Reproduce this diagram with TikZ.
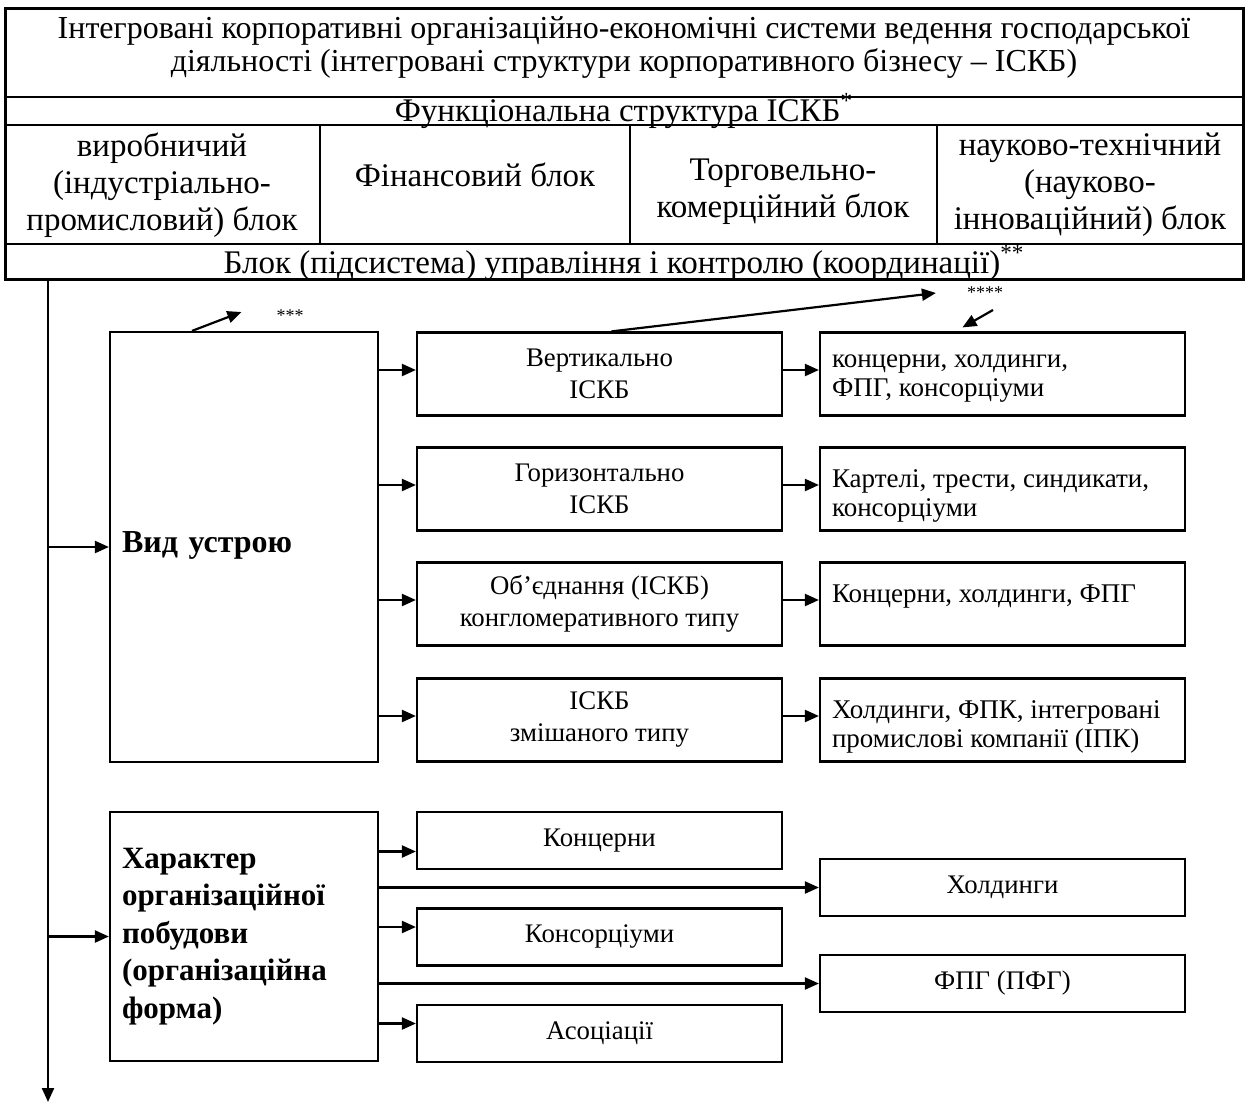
\documentclass[tikz,border=0pt]{standalone}
\usepackage{fontspec}
\setmainfont{Liberation Serif}
\usetikzlibrary{arrows.meta}

\begin{document}
\begin{tikzpicture}[x=0.5pt,y=-0.5pt,line width=1.1pt,
  every node/.style={inner sep=0pt},
  head/.style={align=center,font=\fontsize{16.5}{18.5}\selectfont},
  mid/.style={draw,minimum width=182.5pt,minimum height=41.5pt,align=center,
    font=\fontsize{13.4}{16}\selectfont},
  res/.style={draw,minimum width=182.5pt,minimum height=41.5pt},
  restext/.style={anchor=north west,align=left,inner xsep=6pt,inner ysep=11pt,
    font=\fontsize{13.5}{14.5}\selectfont},
  big/.style={draw,minimum width=134pt,text width=122pt,align=left,
    font=\fontsize{15.5}{18.75}\selectfont\bfseries},
  star/.style={font=\fontsize{9}{9}\selectfont},
  link/.style={-{Triangle[length=7pt,width=6pt]}}]
  \useasboundingbox (0,0) rectangle (1247,1103);

  % header table
  \draw[line width=1.5pt] (5,8) rectangle (1243,279);
  \foreach \y in {97,125,244} {
      \draw (5,\y) -- (1243,\y);
  }
  \foreach \x in {320,630,937} {
      \draw (\x,125) -- (\x,244);
  }
  \node[head,font=\fontsize{16}{16.5}\selectfont] (title) at (624,47) {Інтегровані корпоративні організаційно-економічні системи ведення господарської\\діяльності (інтегровані структури корпоративного бізнесу -- ІСКБ)};
  \node[head] (func) at (624,111) {Функціональна структура ІСКБ\textsuperscript{*}};
  \node[head] (col1) at (162,185) {виробничий\\(індустріально-\\промисловий) блок};
  \node[head] (col2) at (475,175) {Фінансовий блок};
  \node[head] (col3) at (783,192) {Торговельно-\\комерційний блок};
  \node[head] (col4) at (1090,185) {науково-технічний\\(науково-\\інноваційний) блок};
  \node[head] (ctrl) at (624,263) {Блок (підсистема) управління і контролю (координації)\textsuperscript{**}};

  % trunk
  \coordinate (top) at (48,279);
  \coordinate (bottom) at (48,1102);
  \draw[link] (top) -- (bottom);

  % kind of structure
  \node[big,font=\fontsize{16}{18.75}\selectfont\bfseries,minimum height=215pt] (vid) at (244,547) {\raisebox{5pt}{Вид устрою}};
  \node[mid] (vert) at (599.5,374) {\raisebox{-2pt}{\parbox{180pt}{\centering Вертикально\\ІСКБ}}};
  \node[mid] (hor) at (599.5,489) {Горизонтально\\ІСКБ};
  \node[mid] (konh) at (599.5,604) {Об’єднання (ІСКБ)\\конгломеративного типу};
  \node[mid] (mix) at (599.5,720) {ІСКБ\\змішаного типу};
  \node[res,label={[restext]north west:концерни, холдинги,\\ФПГ, консорціуми}] (vertr) at (1002.5,374) {};
  \node[res,label={[restext]north west:Картелі, трести, синдикати,\\консорціуми}] (horr) at (1002.5,489) {};
  \node[res,label={[restext]north west:Концерни, холдинги, ФПГ}] (konhr) at (1002.5,604) {};
  \node[res,label={[restext]north west:Холдинги, ФПК, інтегровані\\промислові компанії (ІПК)}] (mixr) at (1002.5,720) {};
  \draw[link] (top |- vid.west) -- (vid.west);
  \foreach \m/\r in {vert/vertr,hor/horr,konh/konhr,mix/mixr} {
      \draw[link] ([yshift=2pt]\m.west -| vid.east) -- ([yshift=2pt]\m.west);
      \draw[link] ([yshift=2pt]\m.east) -- ([yshift=2pt]\r.west);
  }
  % notes
  \node[star] (s3) at (290,316) {***};
  \node[star] (s4) at (985,293) {****};
  \draw[link] ([xshift=-26pt]vid.north) -- ([xshift=-17pt,yshift=2pt]s3.west);
  \draw[link] ([xshift=6pt]vert.north) -- ([xshift=-15pt]s4.west);
  \draw[link] ([xshift=4pt,yshift=-5pt]s4.south) -- ([xshift=-20pt,yshift=2pt]vertr.north);

  % organisational form
  \node[big,minimum height=124.5pt] (char) at (244,936.5) {\raisebox{1.5pt}{\parbox{122pt}{Характер\\організаційної\\побудови\\(організаційна\\форма)}}};
  \node[mid,minimum height=28.5pt] (konts) at (599.5,840.5) {Концерни};
  \node[mid,minimum height=28.5pt] (kons) at (599.5,937) {Консорціуми};
  \node[mid,minimum height=28.5pt] (asoc) at (599.5,1033.5) {Асоціації};
  \node[mid,minimum height=28.5pt] (hold) at (1002.5,887.5) {Холдинги};
  \node[mid,minimum height=28.5pt] (fpg) at (1002.5,983.5) {ФПГ (ПФГ)};
  \draw[link] (top |- char.west) -- (char.west);
  \draw[link] ([yshift=-5.5pt]konts.west -| char.east) -- ([yshift=-5.5pt]konts.west);
  \draw[link] (hold.west -| char.east) -- (hold.west);
  \draw[link] ([yshift=5pt]kons.west -| char.east) -- ([yshift=5pt]kons.west);
  \draw[link] (fpg.west -| char.east) -- (fpg.west);
  \draw[link] ([yshift=5pt]asoc.west -| char.east) -- ([yshift=5pt]asoc.west);
\end{tikzpicture}
\end{document}
